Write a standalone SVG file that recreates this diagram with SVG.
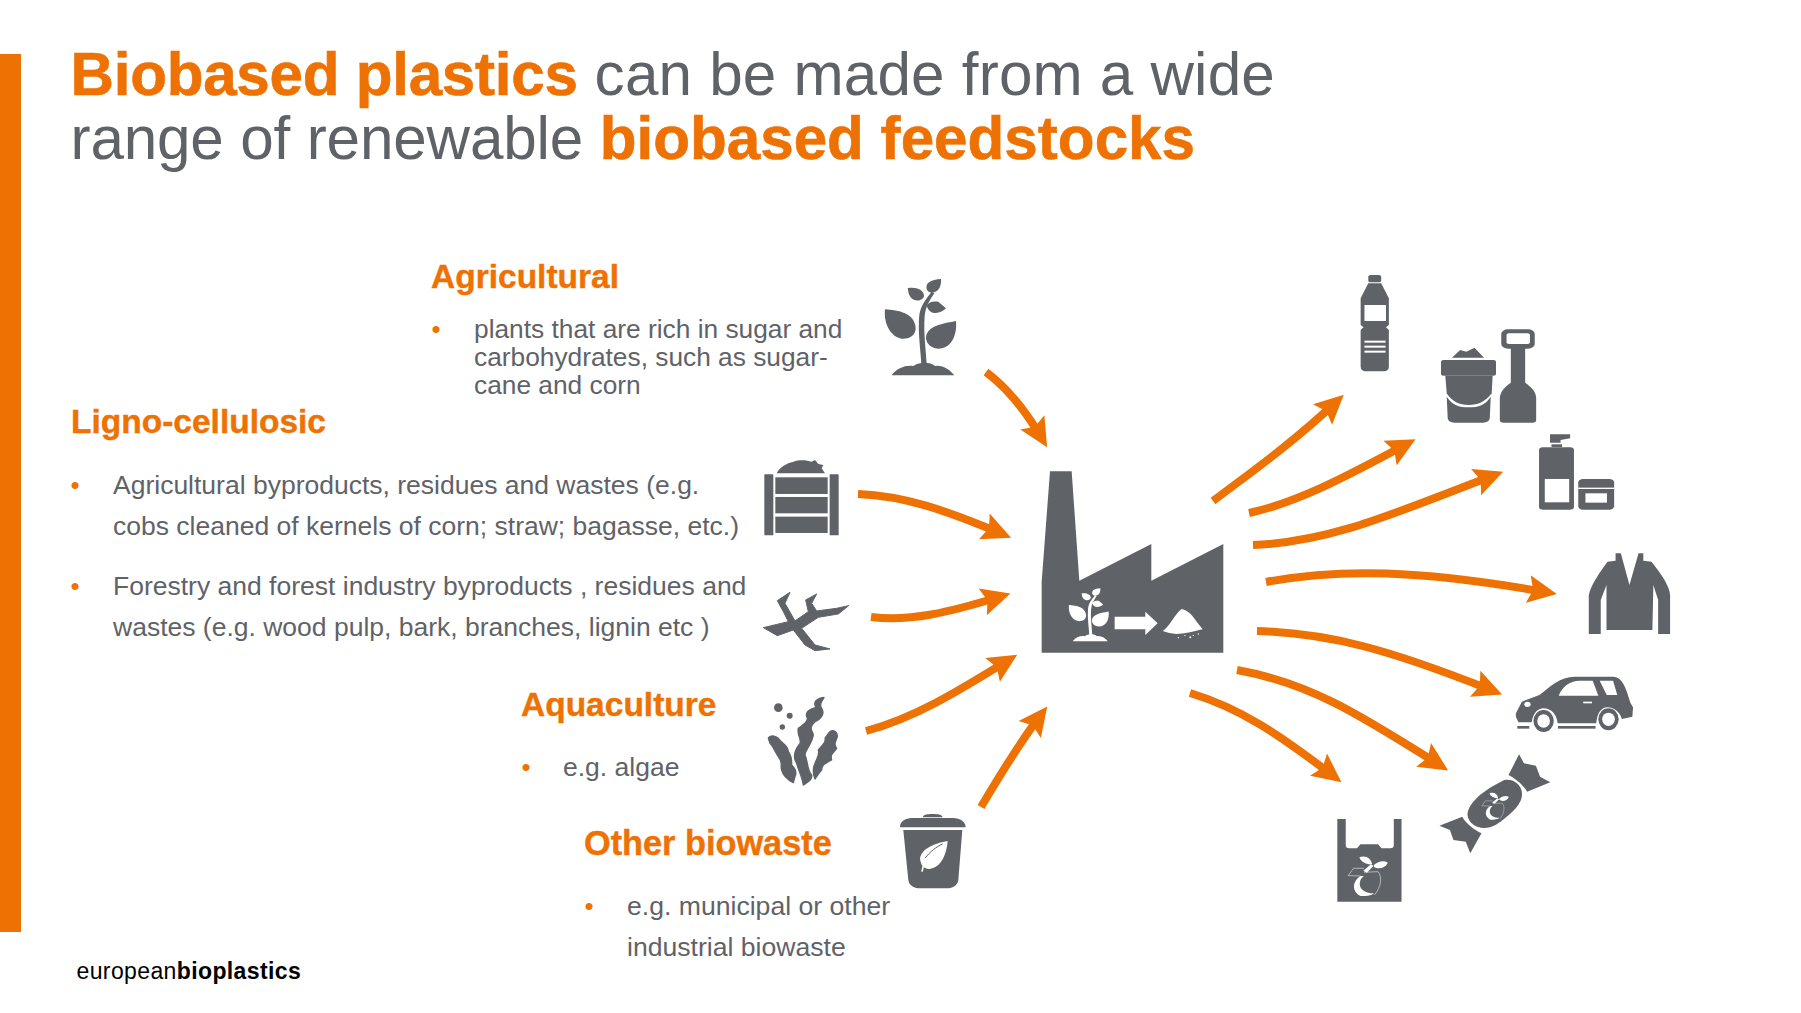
<svg xmlns="http://www.w3.org/2000/svg" xmlns:xlink="http://www.w3.org/1999/xlink" width="1801" height="1013" viewBox="0 0 1801 1013">
<style>
text{font-family:"Liberation Sans",Arial,sans-serif}
.title{font-size:60.2px;fill:#5f6368}
.o{fill:#ee7203;font-weight:700;stroke:#ee7203;stroke-width:.6}
.h{font-size:33.5px;font-weight:700;fill:#ee7203;stroke:#ee7203;stroke-width:.4}
.b{font-size:26.5px;fill:#5f6368}
.d{font-size:26px;fill:#ee7203}
.g{fill:#5f6368}
.w{fill:#fff}
.s{stroke:#5f6368;stroke-width:4;stroke-linejoin:round}
.a{fill:none;stroke:#ee7203;stroke-width:8;marker-end:url(#head)}
</style>
<defs>
<marker id="head" markerUnits="userSpaceOnUse" markerWidth="32" markerHeight="32" viewBox="0 -16 32 32" refX="17" refY="0" orient="auto"><path d="M0,-14 L29,0 L0,14 L5,0Z" fill="#ee7203"/></marker>
<g id="plant">
<path d="M405,148C445,150 495,160 497,205C497,225 480,238 455,236C425,232 400,195 405,148Z"/>
<path d="M618,183C622,225 605,265 565,266C540,265 522,245 530,222C540,197 580,190 618,183Z"/>
<path d="M473,85C495,80 522,88 522,108C520,122 495,128 482,112C475,103 475,93 473,85Z"/>
<path d="M530,137C540,122 555,125 565,125L588,145C575,160 540,170 530,137Z"/>
<path d="M573,57C575,75 568,97 545,98C528,97 525,78 535,68C545,60 560,58 573,57Z"/>
<path d="M514,312C512,270 503,215 508,165C512,135 530,115 545,95L553,100C540,120 526,140 524,170C520,215 528,270 530,312Z"/>
<path d="M425,346C440,325 465,315 490,318C510,305 540,305 555,318C580,315 600,330 613,346Z"/>
</g>
<g id="sprout">
<path d="M597,712C615,705 630,715 633,733C618,735 600,725 597,712Z"/>
<path d="M638,735C650,725 665,720 678,728C670,745 650,750 638,740Z"/>
<path d="M630,733L637,738L618,758L608,752Z"/>
<path d="M600,768C575,785 575,815 600,828C620,830 635,825 638,820C615,820 600,810 598,795C598,785 600,775 610,768Z"/>
<path d="M565,767L580,745L610,745M610,757L650,755C662,770 660,800 640,825M565,767L600,768" fill="none" stroke="#fff" stroke-width="1.5"/>
</g>
</defs>
<rect width="1801" height="1013" fill="#fff"/>
<rect id="side-bar" x="0" y="54" width="21" height="878" fill="#ee7203"/>
<g id="title">
<text class="title" x="70.5" y="95"><tspan class="o" letter-spacing="-.27">Biobased plastics</tspan><tspan letter-spacing=".2"> can be made from a wide</tspan></text>
<text class="title" x="70.5" y="159"><tspan letter-spacing="-.15">range of renewable </tspan><tspan class="o">biobased feedstocks</tspan></text>
</g>
<g id="connectors">
<path class="a" d="M986,372C1010,390 1028,415 1041,437"/>
<path class="a" d="M858,494C905,496 945,510 1000,533"/>
<path class="a" d="M871,617C910,622 950,612 999,597"/>
<path class="a" d="M866,731C915,718 960,690 1007,661"/>
<path class="a" d="M981,807C1000,775 1018,745 1040,716"/>
<path class="a" d="M1213,501C1250,473 1290,445 1335,403"/>
<path class="a" d="M1249,513C1295,503 1340,480 1405,445"/>
<path class="a" d="M1253,545C1330,542 1390,515 1492,476"/>
<path class="a" d="M1266,582C1340,568 1420,570 1545,592"/>
<path class="a" d="M1257,631C1330,633 1390,650 1491,690"/>
<path class="a" d="M1237,670C1310,683 1360,715 1438,764"/>
<path class="a" d="M1190,693C1240,708 1280,735 1332,775"/>
</g>
<g id="agricultural">
<text class="h" x="431" y="288">Agricultural</text>
<text class="d" x="431.4" y="338">•</text>
<text class="b" x="474" y="338" style="font-size:26.3px">plants that are rich in sugar and</text>
<text class="b" x="474" y="366" style="font-size:26.3px">carbohydrates, such as sugar-</text>
<text class="b" x="474" y="394" style="font-size:26.3px">cane and corn</text>
<use href="#plant" class="g" transform="translate(750 260) scale(.3333)"/>
</g>
<g id="ligno-cellulosic">
<text class="h" x="71" y="433">Ligno-cellulosic</text>
<text class="d" x="70.4" y="494">•</text>
<text class="b" x="113" y="494">Agricultural byproducts, residues and wastes (e.g.</text>
<text class="b" x="113" y="535">cobs cleaned of kernels of corn; straw; bagasse, etc.)</text>
<text class="d" x="70.4" y="595">•</text>
<text class="b" x="113" y="595">Forestry and forest industry byproducts , residues and</text>
<text class="b" x="113" y="636">wastes (e.g. wood pulp, bark, branches, lignin etc )</text>
<g class="g" transform="translate(750 260) scale(.3333)">
<path d="M80,640C90,620 110,610 130,605C150,598 170,600 185,605L195,600L205,612L220,615L215,625L225,640Z"/>
<rect x="43" y="643" width="27" height="183" rx="2"/><rect x="239" y="643" width="27" height="183" rx="2"/>
<rect x="76" y="652" width="157" height="50"/><rect x="76" y="711" width="157" height="49"/><rect x="76" y="770" width="157" height="49"/>
<path class="s" style="stroke-width:3" d="M120,997L82,1022L100,1055L115,1085L40,1103L82,1127L130,1110L165,1155L195,1172L240,1167L195,1155L155,1105L205,1072L265,1062L296,1037L260,1045L200,1053L185,1030L200,1002L167,1020L175,1055L135,1083L105,1030Z"/>
</g>
</g>
<g id="aquaculture">
<text class="h" x="521" y="716">Aquaculture</text>
<text class="d" x="521.4" y="776">•</text>
<text class="b" x="563" y="776">e.g. algae</text>
<g class="g" transform="translate(750 680) scale(.3333)">
<circle cx="85" cy="83" r="13"/><circle cx="119" cy="107" r="9"/><circle cx="97" cy="141" r="8"/>
<path class="s" d="M222,52C195,55 190,70 198,82C180,88 165,95 170,110C178,122 160,135 145,145C140,165 155,175 150,190C130,215 130,235 140,250C145,270 155,285 160,315C175,305 188,298 185,285C170,270 175,245 165,225C165,210 185,195 190,165C190,155 172,145 195,125C215,115 225,100 215,85C205,70 220,60 222,52Z"/>
<path class="s" d="M55,175C60,165 75,165 85,175C95,190 115,195 115,215C125,230 125,240 125,255C140,270 140,280 135,290L130,308C115,300 100,290 95,270C90,255 100,245 85,230C75,215 70,200 60,190Z"/>
<path class="s" d="M240,155C250,148 262,155 262,170C258,185 250,190 260,205C250,220 240,220 245,240C225,250 215,255 215,270C205,280 200,290 195,297C188,280 188,265 195,250C200,235 210,225 205,210C215,195 230,190 225,175C232,165 235,160 240,155Z"/>
</g>
</g>
<g id="other-biowaste">
<text class="h" x="584" y="855" style="font-size:34.3px">Other biowaste</text>
<text class="d" x="584.4" y="915">•</text>
<text class="b" x="627" y="915" style="font-size:26.6px">e.g. municipal or other</text>
<text class="b" x="627" y="956" style="font-size:26.6px">industrial biowaste</text>
<g transform="translate(750 680) scale(.3333)">
<g class="g">
<path d="M518,412C520,404 530,402 548,402C566,402 576,404 578,412Z"/>
<path d="M450,442C450,420 470,414 490,414L610,414C630,414 647,425 647,442Z"/>
<path d="M460,450L637,450L625,600C623,615 610,625 590,625L510,625C490,625 477,615 475,600Z"/>
</g>
<path class="w" d="M593,483C590,520 575,565 535,567C520,565 512,555 510,535C515,505 555,490 593,483Z"/>
<path d="M525,535C540,515 560,500 578,492" fill="none" stroke="#5f6368" stroke-width="3"/>
<path d="M525,535L516,575" fill="none" stroke="#fff" stroke-width="5"/>
</g>
</g>
<g id="factory" transform="translate(1030 460) scale(.3333)">
<path class="g" d="M60,34L125,34L148,362L364,252L364,362L580,252L580,578L35,578L35,365Z"/>
<use href="#plant" class="w" transform="translate(-110 353.6) scale(.56 .55)"/>
<path class="w" d="M254,470L346,470L346,455L383,490L346,525L346,508L254,508Z"/>
<path class="w" d="M398,513C420,500 435,460 455,447C475,450 490,470 500,485L518,508C490,515 460,522 440,522C425,520 410,518 398,513Z"/>
<g class="w"><circle cx="445" cy="533" r="2"/><circle cx="465" cy="526" r="2"/><circle cx="481" cy="532" r="3"/><circle cx="505" cy="522" r="2"/><circle cx="490" cy="526" r="2"/></g>
</g>
<g id="bottle" transform="translate(1000 250) scale(.4783 .3333)">
<rect class="g" x="770" y="75" width="27" height="22" rx="5"/>
<path class="g" d="M770,100L797,100L813,145L813,225L807,232L813,240L813,350Q813,364 800,364L768,364Q754,364 754,350L754,240L760,232L754,225L754,145Z"/>
<rect class="w" x="762" y="165" width="45" height="48"/>
<rect class="w" x="762" y="272" width="44" height="6"/><rect class="w" x="762" y="287" width="44" height="6"/><rect class="w" x="762" y="302" width="44" height="6"/>
</g>
<g id="bucket-and-shovel" class="g" transform="translate(1000 250) scale(.4783 .3333)">
<path d="M945,323L962,300L975,305L992,293L1012,323Z"/>
<rect x="922" y="330" width="115" height="47" rx="5"/>
<path d="M931,377L1030,377L1028,430C1015,455 1000,465 980,465C960,465 945,455 934,430Z"/>
<path d="M934,440C945,465 960,472 980,472C1000,472 1015,465 1026,440L1024,505Q1022,518 1010,518L950,518Q938,518 936,505Z"/>
<rect x="1048" y="238" width="70" height="58" rx="14"/>
<rect class="w" x="1059" y="250" width="49" height="32" rx="5"/>
<rect x="1068" y="294" width="30" height="106"/>
<path d="M1068,398L1098,398C1110,410 1121,425 1121,445L1121,510Q1121,518 1113,518L1053,518Q1045,518 1045,510L1045,445C1045,425 1056,410 1068,398Z"/>
</g>
<g id="cosmetics" transform="translate(1000 250) scale(.4783 .3333)">
<path class="g" d="M1150,553L1192,553L1192,565L1172,570L1172,578L1150,578Z"/>
<rect class="g" x="1153" y="583" width="22" height="8"/>
<rect class="g" x="1127" y="592" width="73" height="187" rx="8"/>
<rect class="w" x="1139" y="687" width="51" height="70"/>
<rect class="g" x="1209" y="687" width="75" height="92" rx="10"/>
<rect class="w" x="1209" y="713" width="75" height="4"/>
<rect class="w" x="1224" y="730" width="45" height="28"/>
</g>
<g id="jacket" transform="translate(1000 250) scale(.4783 .3333)">
<path class="g" d="M1287,910L1298,910L1316,1005L1335,910L1345,910L1345,932L1362,935C1385,975 1400,1010 1401,1035L1401,1152L1376,1152L1376,1050L1366,1005L1364,1140L1268,1140L1268,1005L1256,1050L1256,1152L1231,1152L1231,1035C1235,1005 1255,965 1270,935L1287,932Z"/>
</g>
<g id="car" transform="translate(1150 620) scale(.3508 .3333)">
<path class="g" d="M1043,290L1043,280L1060,245L1110,225C1140,200 1170,170 1210,170L1320,170C1345,172 1355,195 1370,250L1377,262L1375,290L1345,297C1340,275 1320,262 1305,262C1285,262 1275,280 1272,310L1162,310C1160,280 1140,265 1122,265C1105,265 1092,280 1088,307L1050,307Z"/>
<ellipse class="g" cx="1122" cy="303" rx="29" ry="33"/><ellipse class="w" cx="1122" cy="303" rx="18" ry="20"/>
<ellipse class="g" cx="1307" cy="298" rx="29" ry="33"/><ellipse class="w" cx="1307" cy="298" rx="18" ry="20"/>
<path class="w" d="M1165,227C1175,200 1195,183 1225,182L1262,182L1278,227Z"/>
<path class="w" d="M1282,182L1320,182L1332,225L1302,225Z"/>
<rect class="w" x="1235" y="245" width="25" height="5"/>
<ellipse class="w" cx="1076" cy="253" rx="9" ry="8"/>
<rect class="g" x="1047" y="318" width="34" height="8"/><rect class="g" x="1163" y="318" width="107" height="8"/>
</g>
<g id="candy" transform="translate(1150 620) scale(.3508 .3333)">
<g class="g">
<path d="M1010,480C1040,475 1065,500 1060,530C1055,560 1020,590 985,615C950,635 910,620 905,585C905,550 950,510 1010,480Z"/>
<path d="M1052,403L1066,430L1100,437L1112,470L1141,487L1075,515C1060,490 1040,475 1022,465Z"/>
<path d="M825,617L890,590C900,610 925,630 945,640L913,700L900,665L865,660L855,630Z"/>
</g>
<use href="#sprout" class="w" transform="translate(562 36) scale(.68)"/>
</g>
<g id="bag" transform="translate(1150 620) scale(.3508 .3333)">
<path class="g" d="M534,597L558,597L558,675Q558,685 568,685L590,685L600,673L650,673L660,685L685,685Q695,685 695,675L695,597L717,597L717,845L534,845Z"/>
<use href="#sprout" class="w"/>
</g>
<g id="logo">
<text x="76.5" y="979" font-size="23" letter-spacing=".38" fill="#000">european<tspan font-weight="700">bioplastics</tspan></text>
</g>
</svg>
